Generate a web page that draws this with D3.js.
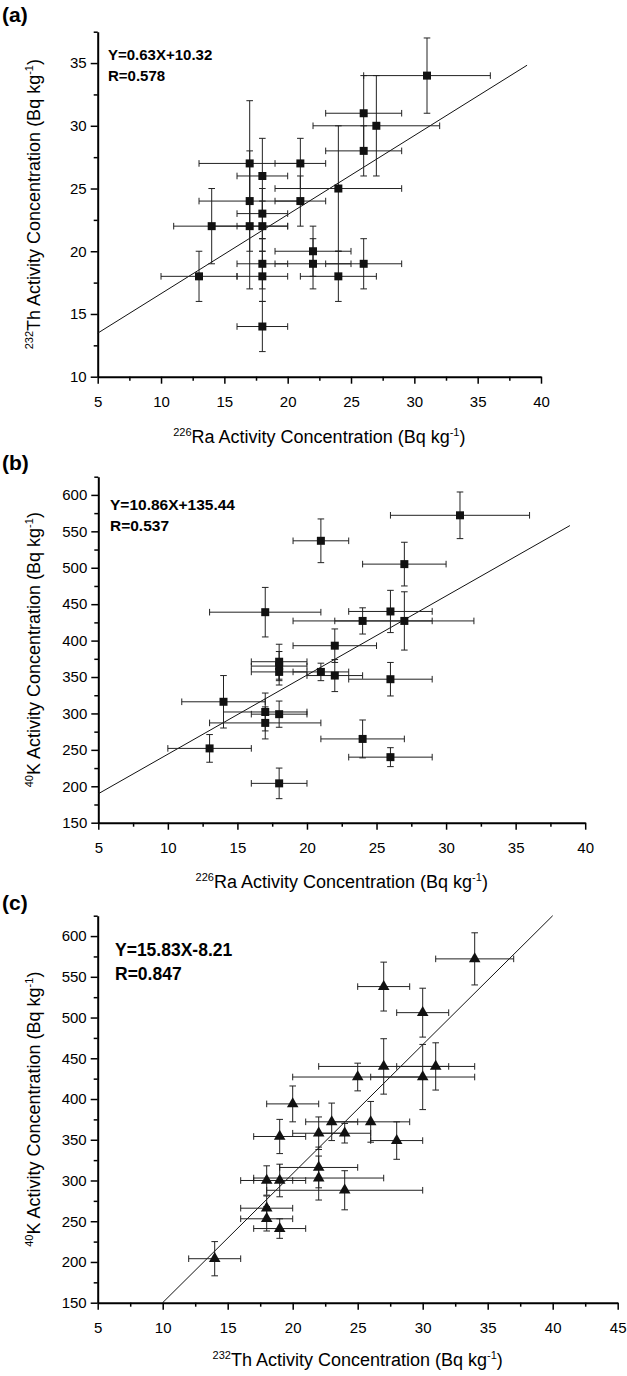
<!DOCTYPE html>
<html lang="en">
<head>
<meta charset="UTF-8">
<title>Ra / Th / K activity concentrations</title>
<style>
    body { margin: 0; background: #fff; }
    svg { display: block; font-family: "Liberation Sans", Arial, sans-serif; }
    .axis path, .axis line { stroke: #000; }
    .axis text { font-size: 15px; fill: #000; }
    .err { stroke: #222; stroke-width: 1; fill: none; }
    .fit { stroke: #111; stroke-width: 1; }
</style>
</head>
<body>
<div id="chart"></div>
<script src="https://d3js.org/d3.v7.min.js"></script>
<script>
// panel (a): 226Ra vs 232Th
const raA    = [13, 14, 17, 17, 17, 18, 18, 18, 18, 18, 18, 21, 21, 22, 22, 24, 24, 26, 26, 26, 27, 31];
const thA    = [18, 22, 27, 24, 22, 26, 23, 22, 19, 18, 14, 27, 24, 20, 19, 25, 18, 31, 28, 19, 30, 34];
const raErrA = [3, 3, 4, 4, 3, 2, 2, 2, 2, 2, 2, 2, 2, 3, 3, 5, 3, 3, 3, 3, 5, 5];
const thErrA = [2, 3, 5, 4, 5, 3, 2, 2, 2, 2, 2, 2, 2, 2, 2, 5, 2, 3, 2, 2, 4, 3];

// panel (b): 226Ra vs 40K
const raB    = [13, 14, 17, 17, 17, 18, 18, 18, 18, 18, 21, 21, 22, 22, 24, 24, 26, 26, 26, 27, 27, 31];
const kB     = [252, 316, 439, 302, 287, 371, 365, 357, 299, 204, 537, 357, 393, 352, 427, 265, 440, 347, 240, 505, 427, 572];
const raErrB = [3, 3, 4, 3, 4, 2, 2, 2, 2, 2, 2, 2, 3, 2, 5, 3, 3, 3, 3, 3, 5, 5];
const kErrB  = [19, 36, 34, 26, 22, 24, 20, 18, 18, 21, 30, 12, 23, 22, 18, 26, 29, 23, 13, 30, 40, 32];

// panel (c): 232Th vs 40K
const thC    = [14, 18, 18, 18, 19, 19, 19, 20, 22, 22, 22, 23, 24, 24, 25, 26, 27, 27, 28, 30, 30, 31, 34];
const kC     = [204, 300, 266, 253, 300, 354, 241, 394, 358, 316, 303, 372, 358, 288, 427, 372, 440, 538, 349, 506, 427, 440, 572];
const thErrC = [2, 2, 2, 2, 2, 2, 2, 2, 2, 3, 5, 2, 2, 6, 5, 3, 5, 2, 2, 2, 4, 3, 3];
const kErrC  = [21, 18, 15, 15, 20, 21, 12, 22, 20, 25, 27, 23, 12, 24, 17, 25, 34, 30, 23, 30, 40, 29, 32];

// fits as printed on the figure
const fits = [
    { slope: 0.63,  icpt: 10.32,  eq: "Y=0.63X+10.32",  r: "R=0.578" },
    { slope: 10.86, icpt: 135.44, eq: "Y=10.86X+135.44", r: "R=0.537" },
    { slope: 15.83, icpt: -8.21,  eq: "Y=15.83X-8.21",  r: "R=0.847" }
];

const W = 627, H = 1376;
const svg = d3.select("#chart").append("svg")
    .attr("width", W).attr("height", H)
    .attr("viewBox", `0 0 ${W} ${H}`);
svg.append("rect").attr("width", W).attr("height", H).attr("fill", "#fff");

const panels = [
    {
        tag: "(a)", tagY: 22,
        xs: raA, ys: thA, xe: raErrA, ye: thErrA, fit: fits[0], marker: d3.symbolSquare,
        xDom: [5, 40], yDom: [10, 37.5], xRange: [97.7, 541], yRange: [376.7, 31.7],
        xTicks: d3.range(5, 40.1, 2.5), yTicks: d3.range(10, 37.6, 2.5), xStep: 5, yStep: 5,
        fitX: [5, 38.9], eqX: 108, eqY: 60, eqSize: 15,
        xTitle: ["226", "Ra Activity Concentration (Bq kg", "-1", ")"], xTitleY: 443,
        yTitle: ["232", "Th Activity Concentration (Bq kg", "-1", ")"]
    },
    {
        tag: "(b)", tagY: 470,
        xs: raB, ys: kB, xe: raErrB, ye: kErrB, fit: fits[1], marker: d3.symbolSquare,
        xDom: [5, 40], yDom: [150, 625], xRange: [98.3, 585.2], yRange: [822.7, 476.7],
        xTicks: d3.range(5, 40.1, 2.5), yTicks: d3.range(150, 626, 25), xStep: 5, yStep: 50,
        fitX: [5, 38.9], eqX: 110, eqY: 510, eqSize: 15.5,
        xTitle: ["226", "Ra Activity Concentration (Bq kg", "-1", ")"], xTitleY: 888,
        yTitle: ["40", "K Activity Concentration (Bq kg", "-1", ")"]
    },
    {
        tag: "(c)", tagY: 910,
        xs: thC, ys: kC, xe: thErrC, ye: kErrC, fit: fits[2], marker: d3.symbolTriangle,
        xDom: [5, 45], yDom: [150, 625], xRange: [97.7, 617.7], yRange: [1302.7, 915.7],
        xTicks: d3.range(5, 45.1, 2.5), yTicks: d3.range(150, 626, 25), xStep: 5, yStep: 50,
        fitX: [10, 40], eqX: 115, eqY: 956, eqSize: 17.5,
        xTitle: ["232", "Th Activity Concentration (Bq kg", "-1", ")"], xTitleY: 1366,
        yTitle: ["40", "K Activity Concentration (Bq kg", "-1", ")"]
    }
];

panels.forEach(drawPanel);

function isMajor(v, step) {
    return Math.abs(v / step - Math.round(v / step)) < 1e-6;
}

function titleText(sel, parts) {
    sel.append("tspan").attr("font-size", "11px").attr("dy", "-7").text(parts[0]);
    sel.append("tspan").attr("dy", "7").text(parts[1]);
    sel.append("tspan").attr("font-size", "11px").attr("dy", "-7").text(parts[2]);
    sel.append("tspan").attr("dy", "7").text(parts[3]);
}

function drawPanel(p) {
    const x = d3.scaleLinear().domain(p.xDom).range(p.xRange);
    const y = d3.scaleLinear().domain(p.yDom).range(p.yRange);
    const g = svg.append("g");

    // axes (outward ticks, long major / short minor)
    const xAxis = g.append("g").attr("class", "axis")
        .attr("transform", `translate(0,${p.yRange[0]})`)
        .call(d3.axisBottom(x).tickValues(p.xTicks).tickSizeOuter(0)
            .tickFormat(d => isMajor(d, p.xStep) ? d3.format("d")(d) : ""));
    xAxis.select(".domain").attr("stroke-width", 2);
    xAxis.selectAll(".tick line")
        .attr("stroke-width", 1.5)
        .attr("y2", d => isMajor(d, p.xStep) ? 7 : 4);
    xAxis.selectAll(".tick text").attr("y", 20);

    const yAxis = g.append("g").attr("class", "axis")
        .attr("transform", `translate(${p.xRange[0]},0)`)
        .call(d3.axisLeft(y).tickValues(p.yTicks).tickSizeOuter(0)
            .tickFormat(d => isMajor(d, p.yStep) ? d3.format("d")(d) : ""));
    yAxis.select(".domain").attr("stroke-width", 2);
    yAxis.selectAll(".tick line")
        .attr("stroke-width", 1.5)
        .attr("x2", d => isMajor(d, p.yStep) ? -7 : -4);
    yAxis.selectAll(".tick text").attr("x", -11);

    // regression line
    g.append("line").attr("class", "fit")
        .attr("x1", x(p.fitX[0])).attr("y1", y(p.fit.slope * p.fitX[0] + p.fit.icpt))
        .attr("x2", x(p.fitX[1])).attr("y2", y(p.fit.slope * p.fitX[1] + p.fit.icpt));

    const pts = p.xs.map((v, i) => ({ x: v, y: p.ys[i], ex: p.xe[i], ey: p.ye[i] }));
    const cap = 3.3;

    const bars = g.append("g").attr("class", "err");
    pts.forEach(d => {
        const cx = x(d.x), cy = y(d.y);
        const x0 = x(d.x - d.ex), x1 = x(d.x + d.ex);
        const y0 = y(d.y - d.ey), y1 = y(d.y + d.ey);
        bars.append("path").attr("d",
            `M${x0},${cy}H${x1}M${x0},${cy - cap}V${cy + cap}M${x1},${cy - cap}V${cy + cap}` +
            `M${cx},${y0}V${y1}M${cx - cap},${y0}H${cx + cap}M${cx - cap},${y1}H${cx + cap}`);
    });

    const size = p.marker === d3.symbolSquare ? 64 : 58;
    g.append("g").selectAll("path")
        .data(pts).join("path")
        .attr("transform", d => `translate(${x(d.x)},${y(d.y)})`)
        .attr("d", d3.symbol().type(p.marker).size(size))
        .attr("fill", "#111");

    // equation text
    g.append("text").attr("x", p.eqX).attr("y", p.eqY)
        .attr("font-size", p.eqSize + "px").attr("font-weight", "bold").text(p.fit.eq);
    g.append("text").attr("x", p.eqX).attr("y", p.eqY + p.eqSize * 1.38)
        .attr("font-size", p.eqSize + "px").attr("font-weight", "bold").text(p.fit.r);

    // panel tag
    g.append("text").attr("x", 2).attr("y", p.tagY)
        .attr("font-size", "21px").attr("font-weight", "bold").text(p.tag);

    // axis titles
    const xt = g.append("text")
        .attr("x", (p.xRange[0] + p.xRange[1]) / 2).attr("y", p.xTitleY)
        .attr("text-anchor", "middle").attr("font-size", "18px");
    titleText(xt, p.xTitle);

    const yc = (p.yRange[0] + p.yRange[1]) / 2;
    const yt = g.append("text")
        .attr("transform", `translate(40,${yc}) rotate(-90)`)
        .attr("text-anchor", "middle").attr("font-size", "18px");
    titleText(yt, p.yTitle);
}
</script>
</body>
</html>
